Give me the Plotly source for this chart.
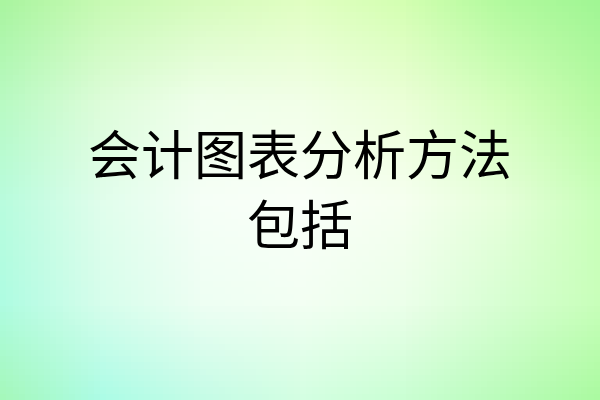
import base64
import struct
import zlib

import plotly.graph_objects as go

# Text lines of the picture
title_lines = ["会计图表分析方法", "包括"]
line_y = [152, 222]

# Background colour samples (rows at y=0,100,...,400; cols at x=0,100,...,600)
bg_row_0 = [(170, 245, 160), (200, 250, 180), (215, 252, 190), (225, 255, 195), (212, 255, 178), (178, 250, 158), (160, 246, 148)]
bg_row_1 = [(185, 250, 195), (222, 253, 218), (240, 255, 235), (242, 255, 232), (236, 255, 216), (212, 255, 188), (182, 250, 162)]
bg_row_2 = [(185, 252, 222), (225, 254, 236), (246, 255, 247), (250, 255, 249), (246, 255, 240), (230, 255, 218), (200, 255, 185)]
bg_row_3 = [(175, 252, 226), (215, 254, 236), (238, 255, 243), (243, 255, 243), (236, 255, 234), (215, 255, 210), (200, 255, 185)]
bg_row_4 = [(165, 248, 185), (170, 252, 230), (195, 252, 230), (210, 255, 225), (200, 255, 210), (185, 252, 185), (168, 250, 158)]
bg_rows = [bg_row_0, bg_row_1, bg_row_2, bg_row_3, bg_row_4]


def tiny_png(rows):
    """Encode the sampled colour grid as a small PNG (the browser smooths it when stretched)."""
    h = len(rows)
    w = len(rows[0])
    raw = b"".join(b"\x00" + bytes(v for c in row for v in c) for row in rows)

    def chunk(tag, data):
        body = tag + data
        return struct.pack(">I", len(data)) + body + struct.pack(">I", zlib.crc32(body) & 0xFFFFFFFF)

    png = b"\x89PNG\r\n\x1a\n"
    png += chunk(b"IHDR", struct.pack(">IIBBBBB", w, h, 8, 2, 0, 0, 0))
    png += chunk(b"IDAT", zlib.compress(raw, 9))
    png += chunk(b"IEND", b"")
    return "data:image/png;base64," + base64.b64encode(png).decode()


n_cols = len(bg_rows[0])
n_rows = len(bg_rows)

fig = go.Figure()
fig.add_trace(go.Scatter(x=[None], y=[None], mode="markers", hoverinfo="skip", showlegend=False))

# stretched background so that each sample sits at its pixel centre
fig.add_layout_image(
    source=tiny_png(bg_rows),
    xref="paper", yref="paper",
    x=-0.5 / (n_cols - 1), y=1 + 0.5 / (n_rows - 1),
    sizex=n_cols / (n_cols - 1), sizey=n_rows / (n_rows - 1),
    xanchor="left", yanchor="top",
    sizing="stretch", layer="below", opacity=1,
)

for txt, y in zip(title_lines, line_y):
    fig.add_annotation(
        x=300, y=y, xref="x", yref="y",
        text=txt, showarrow=False,
        xanchor="center", yanchor="middle",
        font=dict(family="Noto Sans CJK SC", size=53, color="#000000"),
    )

fig.update_layout(
    width=600, height=400,
    margin=dict(l=0, r=0, t=0, b=0),
    paper_bgcolor="#eafff0",
    plot_bgcolor="rgba(0,0,0,0)",
    showlegend=False,
    xaxis=dict(range=[0, 600], visible=False, fixedrange=True),
    yaxis=dict(range=[400, 0], visible=False, fixedrange=True),
)

fig.write_html(
    "out.html",
    config={"displayModeBar": False, "staticPlot": True},
    post_script="document.body.style.margin='0';document.body.style.overflow='hidden';",
)
